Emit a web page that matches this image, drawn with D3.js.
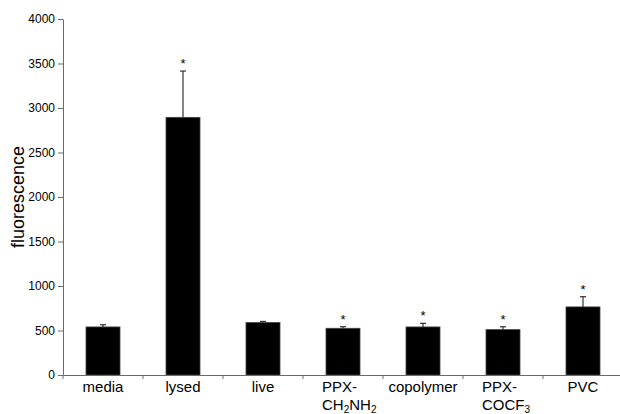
<!DOCTYPE html>
<html><head><meta charset="utf-8">
<script src="https://cdn.jsdelivr.net/npm/d3@7"></script>
<style>body{margin:0;background:#fff}svg{display:block}text{font-family:"Liberation Sans",Arial,sans-serif}</style>
</head><body><svg id="c" width="620" height="414"></svg>
<script>
const categories = ["media","lysed","live","PPX-CH2NH2","copolymer","PPX-COCF3","PVC"];
const values = [540, 2895, 590, 525, 540, 510, 765];
const errors = [25, 520, 12, 18, 40, 32, 115];
const significant = [false, true, false, true, true, true, true];
const yTicks = [0,500,1000,1500,2000,2500,3000,3500,4000];

const svg = d3.select("#c");
const x = d3.scaleBand().domain(categories).range([63, 623]).padding(0);
const y = d3.scaleLinear().domain([0, 4000]).range([375, 19]);
const axisColor = "#6a6a6a";
const bw = 34;

// y axis
const ya = svg.append("g").attr("transform","translate(63,0)")
  .call(d3.axisLeft(y).tickValues(yTicks).tickFormat(d3.format("d")).tickSize(5).tickSizeOuter(0).tickPadding(3));
ya.selectAll("path,line").attr("stroke", axisColor);
ya.selectAll("text").attr("font-size", 12).attr("fill","#000");

// bars
svg.selectAll("rect.bar").data(categories).enter().append("rect")
  .attr("x", (d)=> x(d) + x.bandwidth()/2 - bw/2)
  .attr("width", bw)
  .attr("y", (d,i)=> y(values[i]))
  .attr("height", (d,i)=> y(0) - y(values[i]))
  .attr("fill", "#000").attr("stroke","#444").attr("stroke-width",0.8);

// error bars
const eb = svg.append("g").attr("stroke","#333").attr("stroke-width",1.2);
categories.forEach((c,i)=>{
  const cx = x(c) + x.bandwidth()/2;
  eb.append("line").attr("x1",cx).attr("x2",cx).attr("y1",y(values[i])).attr("y2",y(values[i]+errors[i]));
  eb.append("line").attr("x1",cx-3).attr("x2",cx+3).attr("y1",y(values[i]+errors[i])).attr("y2",y(values[i]+errors[i]));
  if (significant[i]) {
    svg.append("text").attr("x",cx).attr("y",y(values[i]+errors[i]) - 3)
      .attr("text-anchor","middle").attr("font-size",13).attr("fill","#000").text("*");
  }
});

// x axis
const xa = svg.append("g").attr("transform","translate(0,375)")
  .call(d3.axisBottom(x).tickValues([]).tickSizeOuter(0));
xa.select("path").attr("stroke", axisColor);
const bounds = [63].concat(categories.map(c => x(c) + x.bandwidth()));
xa.selectAll("line.tk").data(bounds).enter().append("line").attr("class","tk")
  .attr("x1", d=>d).attr("x2", d=>d).attr("y1",0).attr("y2",4).attr("stroke",axisColor);

// x labels
const labG = svg.append("g").attr("font-size",15).attr("fill","#000");
categories.forEach((c)=>{
  const cx = x(c) + x.bandwidth()/2;
  if (c.startsWith("PPX-")) {
    const x0 = x(c) + 19;
    labG.append("text").attr("x", x0).attr("y", 392).text("PPX-");
    const t = labG.append("text").attr("x", x0).attr("y", 410);
    const rest = c.slice(4);
    if (rest === "CH2NH2") {
      t.append("tspan").text("CH");
      t.append("tspan").attr("font-size",10).attr("dy",3).text("2");
      t.append("tspan").attr("dy",-3).text("NH");
      t.append("tspan").attr("font-size",10).attr("dy",3).text("2");
    } else {
      t.append("tspan").text("COCF");
      t.append("tspan").attr("font-size",10).attr("dy",3).text("3");
    }
  } else {
    labG.append("text").attr("x", cx).attr("y", 392).attr("text-anchor","middle").text(c);
  }
});

// y title
svg.append("text").attr("transform","translate(24,197) rotate(-90)")
  .attr("text-anchor","middle").attr("font-size",18).attr("fill","#000").text("fluorescence");
</script></body></html>
